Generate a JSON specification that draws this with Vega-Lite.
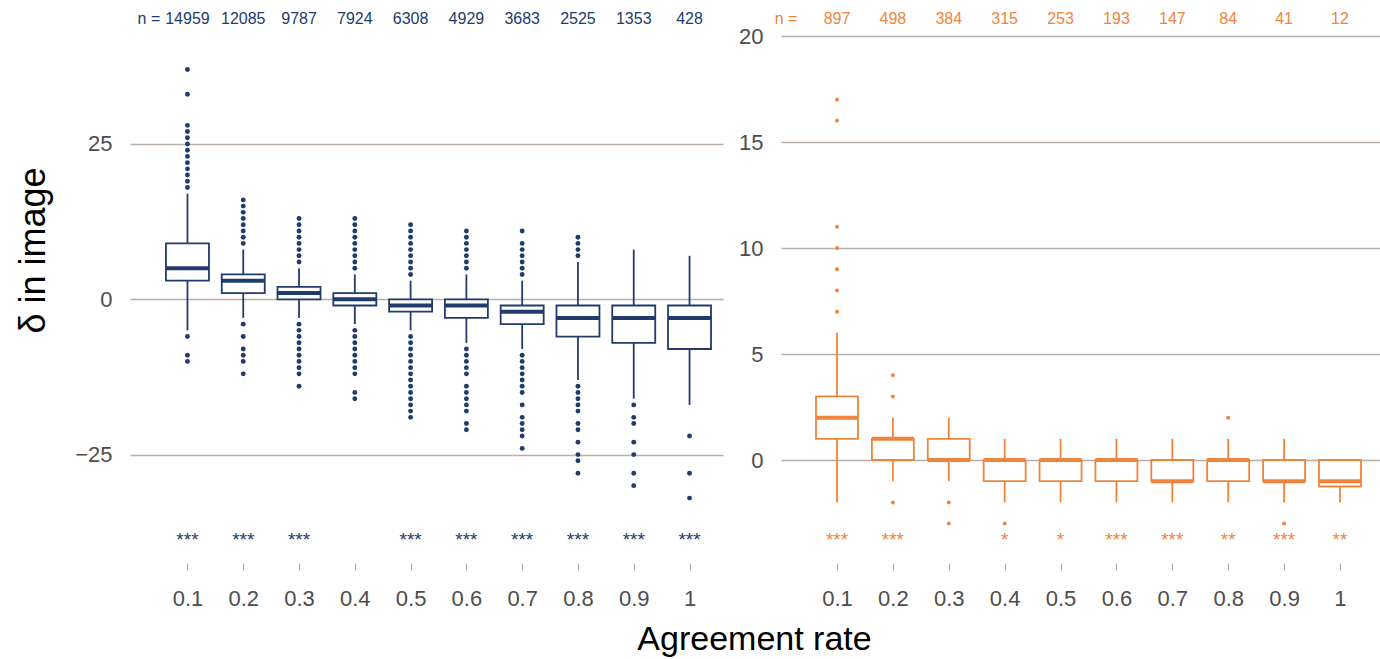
{
  "$schema": "https://vega.github.io/schema/vega-lite/v6.json",
  "background": "white",
  "padding": {"left": 15, "top": 10, "right": 0, "bottom": 0},
  "config": {
    "font": "Liberation Sans",
    "view": {"stroke": null},
    "axis": {"labelFont": "Liberation Sans", "titleFont": "Liberation Sans"}
  },
  "title": {
    "text": "Agreement rate",
    "orient": "bottom",
    "anchor": "middle",
    "fontSize": 34,
    "fontWeight": "normal",
    "color": "#000000",
    "offset": 14,
    "dx": 57
  },
  "spacing": 15,
  "datasets": {
    "leftBox": [
      {"rate": 0.1, "lo": -5, "q1": 3, "med": 5, "q3": 9, "hi": 17, "n": 14959, "sig": "***"},
      {"rate": 0.2, "lo": -3, "q1": 1, "med": 3, "q3": 4, "hi": 8, "n": 12085, "sig": "***"},
      {"rate": 0.3, "lo": -3, "q1": 0, "med": 1, "q3": 2, "hi": 5, "n": 9787, "sig": "***"},
      {"rate": 0.4, "lo": -4, "q1": -1, "med": 0, "q3": 1, "hi": 4, "n": 7924, "sig": ""},
      {"rate": 0.5, "lo": -5, "q1": -2, "med": -1, "q3": 0, "hi": 3, "n": 6308, "sig": "***"},
      {"rate": 0.6, "lo": -7, "q1": -3, "med": -1, "q3": 0, "hi": 4, "n": 4929, "sig": "***"},
      {"rate": 0.7, "lo": -8, "q1": -4, "med": -2, "q3": -1, "hi": 3, "n": 3683, "sig": "***"},
      {"rate": 0.8, "lo": -13, "q1": -6, "med": -3, "q3": -1, "hi": 6, "n": 2525, "sig": "***"},
      {"rate": 0.9, "lo": -16, "q1": -7, "med": -3, "q3": -1, "hi": 8, "n": 1353, "sig": "***"},
      {"rate": 1.0, "lo": -17, "q1": -8, "med": -3, "q3": -1, "hi": 7, "n": 428, "sig": "***"}
    ],
    "leftOut": [
      {"rate": 0.1, "v": 18}, {"rate": 0.1, "v": 19}, {"rate": 0.1, "v": 20}, {"rate": 0.1, "v": 21},
      {"rate": 0.1, "v": 22}, {"rate": 0.1, "v": 23}, {"rate": 0.1, "v": 24}, {"rate": 0.1, "v": 25},
      {"rate": 0.1, "v": 26}, {"rate": 0.1, "v": 27}, {"rate": 0.1, "v": 28}, {"rate": 0.1, "v": 33},
      {"rate": 0.1, "v": 37}, {"rate": 0.1, "v": -6}, {"rate": 0.1, "v": -9}, {"rate": 0.1, "v": -10},
      {"rate": 0.2, "v": 9}, {"rate": 0.2, "v": 10}, {"rate": 0.2, "v": 11}, {"rate": 0.2, "v": 12},
      {"rate": 0.2, "v": 13}, {"rate": 0.2, "v": 14}, {"rate": 0.2, "v": 15}, {"rate": 0.2, "v": 16},
      {"rate": 0.2, "v": -4}, {"rate": 0.2, "v": -6}, {"rate": 0.2, "v": -8}, {"rate": 0.2, "v": -9},
      {"rate": 0.2, "v": -10}, {"rate": 0.2, "v": -12},
      {"rate": 0.3, "v": 6}, {"rate": 0.3, "v": 7}, {"rate": 0.3, "v": 8}, {"rate": 0.3, "v": 9},
      {"rate": 0.3, "v": 10}, {"rate": 0.3, "v": 11}, {"rate": 0.3, "v": 12}, {"rate": 0.3, "v": 13},
      {"rate": 0.3, "v": -4}, {"rate": 0.3, "v": -5}, {"rate": 0.3, "v": -6}, {"rate": 0.3, "v": -7},
      {"rate": 0.3, "v": -8}, {"rate": 0.3, "v": -9}, {"rate": 0.3, "v": -10}, {"rate": 0.3, "v": -11},
      {"rate": 0.3, "v": -12}, {"rate": 0.3, "v": -14},
      {"rate": 0.4, "v": 5}, {"rate": 0.4, "v": 6}, {"rate": 0.4, "v": 7}, {"rate": 0.4, "v": 8},
      {"rate": 0.4, "v": 9}, {"rate": 0.4, "v": 10}, {"rate": 0.4, "v": 11}, {"rate": 0.4, "v": 12},
      {"rate": 0.4, "v": 13}, {"rate": 0.4, "v": -5}, {"rate": 0.4, "v": -6}, {"rate": 0.4, "v": -7},
      {"rate": 0.4, "v": -8}, {"rate": 0.4, "v": -9}, {"rate": 0.4, "v": -10}, {"rate": 0.4, "v": -11},
      {"rate": 0.4, "v": -12}, {"rate": 0.4, "v": -15}, {"rate": 0.4, "v": -16},
      {"rate": 0.5, "v": 4}, {"rate": 0.5, "v": 5}, {"rate": 0.5, "v": 6}, {"rate": 0.5, "v": 7},
      {"rate": 0.5, "v": 8}, {"rate": 0.5, "v": 9}, {"rate": 0.5, "v": 10}, {"rate": 0.5, "v": 11},
      {"rate": 0.5, "v": 12}, {"rate": 0.5, "v": -6}, {"rate": 0.5, "v": -7}, {"rate": 0.5, "v": -8},
      {"rate": 0.5, "v": -9}, {"rate": 0.5, "v": -10}, {"rate": 0.5, "v": -11}, {"rate": 0.5, "v": -12},
      {"rate": 0.5, "v": -13}, {"rate": 0.5, "v": -14}, {"rate": 0.5, "v": -15}, {"rate": 0.5, "v": -16},
      {"rate": 0.5, "v": -17}, {"rate": 0.5, "v": -18}, {"rate": 0.5, "v": -19},
      {"rate": 0.6, "v": 5}, {"rate": 0.6, "v": 6}, {"rate": 0.6, "v": 7}, {"rate": 0.6, "v": 8},
      {"rate": 0.6, "v": 9}, {"rate": 0.6, "v": 10}, {"rate": 0.6, "v": 11}, {"rate": 0.6, "v": -8},
      {"rate": 0.6, "v": -9}, {"rate": 0.6, "v": -10}, {"rate": 0.6, "v": -11}, {"rate": 0.6, "v": -12},
      {"rate": 0.6, "v": -14}, {"rate": 0.6, "v": -15}, {"rate": 0.6, "v": -16}, {"rate": 0.6, "v": -17},
      {"rate": 0.6, "v": -18}, {"rate": 0.6, "v": -20}, {"rate": 0.6, "v": -21},
      {"rate": 0.7, "v": 4}, {"rate": 0.7, "v": 5}, {"rate": 0.7, "v": 6}, {"rate": 0.7, "v": 7},
      {"rate": 0.7, "v": 8}, {"rate": 0.7, "v": 9}, {"rate": 0.7, "v": 11}, {"rate": 0.7, "v": -9},
      {"rate": 0.7, "v": -10}, {"rate": 0.7, "v": -11}, {"rate": 0.7, "v": -12}, {"rate": 0.7, "v": -13},
      {"rate": 0.7, "v": -14}, {"rate": 0.7, "v": -15}, {"rate": 0.7, "v": -17}, {"rate": 0.7, "v": -19},
      {"rate": 0.7, "v": -20}, {"rate": 0.7, "v": -21}, {"rate": 0.7, "v": -22}, {"rate": 0.7, "v": -24},
      {"rate": 0.8, "v": 7}, {"rate": 0.8, "v": 8}, {"rate": 0.8, "v": 9}, {"rate": 0.8, "v": 10},
      {"rate": 0.8, "v": -14}, {"rate": 0.8, "v": -15}, {"rate": 0.8, "v": -16}, {"rate": 0.8, "v": -17},
      {"rate": 0.8, "v": -18}, {"rate": 0.8, "v": -20}, {"rate": 0.8, "v": -21}, {"rate": 0.8, "v": -23},
      {"rate": 0.8, "v": -25}, {"rate": 0.8, "v": -26}, {"rate": 0.8, "v": -28},
      {"rate": 0.9, "v": -17}, {"rate": 0.9, "v": -19}, {"rate": 0.9, "v": -20}, {"rate": 0.9, "v": -23},
      {"rate": 0.9, "v": -25}, {"rate": 0.9, "v": -28}, {"rate": 0.9, "v": -30},
      {"rate": 1.0, "v": -22}, {"rate": 1.0, "v": -28}, {"rate": 1.0, "v": -32}
    ],
    "rightBox": [
      {"rate": 0.1, "lo": -2, "q1": 1, "med": 2, "q3": 3, "hi": 6, "n": 897, "sig": "***"},
      {"rate": 0.2, "lo": -1, "q1": 0, "med": 1, "q3": 1, "hi": 2, "n": 498, "sig": "***"},
      {"rate": 0.3, "lo": -1, "q1": 0, "med": 0, "q3": 1, "hi": 2, "n": 384, "sig": ""},
      {"rate": 0.4, "lo": -2, "q1": -1, "med": 0, "q3": 0, "hi": 1, "n": 315, "sig": "*"},
      {"rate": 0.5, "lo": -2, "q1": -1, "med": 0, "q3": 0, "hi": 1, "n": 253, "sig": "*"},
      {"rate": 0.6, "lo": -2, "q1": -1, "med": 0, "q3": 0, "hi": 1, "n": 193, "sig": "***"},
      {"rate": 0.7, "lo": -2, "q1": -1, "med": -1, "q3": 0, "hi": 1, "n": 147, "sig": "***"},
      {"rate": 0.8, "lo": -2, "q1": -1, "med": 0, "q3": 0, "hi": 1, "n": 84, "sig": "**"},
      {"rate": 0.9, "lo": -2, "q1": -1, "med": -1, "q3": 0, "hi": 1, "n": 41, "sig": "***"},
      {"rate": 1.0, "lo": -2, "q1": -1.25, "med": -1, "q3": 0, "hi": 0, "n": 12, "sig": "**"}
    ],
    "rightOut": [
      {"rate": 0.1, "v": 7}, {"rate": 0.1, "v": 8}, {"rate": 0.1, "v": 9}, {"rate": 0.1, "v": 10},
      {"rate": 0.1, "v": 11}, {"rate": 0.1, "v": 16}, {"rate": 0.1, "v": 17},
      {"rate": 0.2, "v": 3}, {"rate": 0.2, "v": 4}, {"rate": 0.2, "v": -2},
      {"rate": 0.3, "v": -2}, {"rate": 0.3, "v": -3},
      {"rate": 0.4, "v": -3},
      {"rate": 0.8, "v": 2},
      {"rate": 0.9, "v": -3}
    ]
  },
  "hconcat": [
    {
      "width": 593,
      "height": 553,
      "layer": [
        {
          "data": {"name": "leftBox"},
          "mark": {"type": "rule", "color": "#213c6c", "strokeWidth": 1.8},
          "encoding": {
            "x": {
              "field": "rate", "type": "quantitative",
              "scale": {"domain": [-0.003, 1.06], "nice": false, "zero": false, "padding": 0},
              "axis": {
                "values": [0.1, 0.2, 0.3, 0.4, 0.5, 0.6, 0.7, 0.8, 0.9, 1],
                "format": ".1~f", "title": null, "domain": false, "grid": false,
                "ticks": true, "tickSize": 7, "tickColor": "#a8a8a8", "tickWidth": 1,
                "labelFontSize": 22, "labelColor": "#4d4d4d", "labelPadding": 18, "labelFlush": false
              }
            },
            "y": {
              "field": "lo", "type": "quantitative",
              "scale": {"domain": [-42.45, 46.57], "nice": false, "zero": false},
              "axis": {
                "values": [-25, 0, 25], "title": "δ in image", "titleFontSize": 36,
                "titleFontWeight": "normal", "titleColor": "#000000", "titleX": -97, "titleY": 240,
                "titleBaseline": "middle",
                "grid": true, "gridColor": "#b9afa7", "gridWidth": 1.5,
                "ticks": false, "domain": false, "labelFontSize": 22, "labelColor": "#4d4d4d", "labelPadding": 18
              }
            },
            "y2": {"field": "hi"}
          }
        },
        {
          "data": {"name": "leftBox"},
          "mark": {"type": "bar", "orient": "vertical", "size": 43, "fill": "white", "stroke": "#213c6c", "strokeWidth": 1.8},
          "encoding": {
            "x": {"field": "rate", "type": "quantitative"},
            "y": {"field": "q1", "type": "quantitative"},
            "y2": {"field": "q3"}
          }
        },
        {
          "data": {"name": "leftBox"},
          "mark": {"type": "tick", "orient": "horizontal", "size": 43, "thickness": 4, "color": "#213c6c", "opacity": 1},
          "encoding": {
            "x": {"field": "rate", "type": "quantitative"},
            "y": {"field": "med", "type": "quantitative"}
          }
        },
        {
          "data": {"name": "leftOut"},
          "mark": {"type": "point", "shape": "circle", "filled": true, "size": 24, "color": "#213c6c", "opacity": 1},
          "encoding": {
            "x": {"field": "rate", "type": "quantitative"},
            "y": {"field": "v", "type": "quantitative"}
          }
        },
        {
          "data": {"name": "leftBox"},
          "mark": {"type": "text", "fontSize": 16, "color": "#213c6c", "baseline": "middle"},
          "encoding": {
            "x": {"field": "rate", "type": "quantitative"},
            "y": {"datum": 45.1},
            "text": {"field": "n"}
          }
        },
        {
          "data": {"values": [{"label": "n ="}]},
          "mark": {"type": "text", "fontSize": 16, "color": "#213c6c", "baseline": "middle"},
          "encoding": {
            "x": {"datum": 0.031},
            "y": {"datum": 45.1},
            "text": {"field": "label"}
          }
        },
        {
          "data": {"name": "leftBox"},
          "mark": {"type": "text", "fontSize": 19, "color": "#213c6c", "baseline": "middle"},
          "encoding": {
            "x": {"field": "rate", "type": "quantitative"},
            "y": {"datum": -38.75},
            "text": {"field": "sig"}
          }
        }
      ]
    },
    {
      "width": 599,
      "height": 553,
      "layer": [
        {
          "data": {"name": "rightBox"},
          "mark": {"type": "rule", "color": "#f0843c", "strokeWidth": 1.8},
          "encoding": {
            "x": {
              "field": "rate", "type": "quantitative",
              "scale": {"domain": [-0.0002, 1.0716], "nice": false, "zero": false, "padding": 0},
              "axis": {
                "values": [0.1, 0.2, 0.3, 0.4, 0.5, 0.6, 0.7, 0.8, 0.9, 1],
                "format": ".1~f", "title": null, "domain": false, "grid": false,
                "ticks": true, "tickSize": 7, "tickColor": "#a8a8a8", "tickWidth": 1,
                "labelFontSize": 22, "labelColor": "#4d4d4d", "labelPadding": 18, "labelFlush": false
              }
            },
            "y": {
              "field": "lo", "type": "quantitative",
              "scale": {"domain": [-4.858, 21.23], "nice": false, "zero": false},
              "axis": {
                "values": [0, 5, 10, 15, 20], "title": null,
                "grid": true, "gridColor": "#b9afa7", "gridWidth": 1.5,
                "ticks": false, "domain": false, "labelFontSize": 22, "labelColor": "#4d4d4d", "labelPadding": 18
              }
            },
            "y2": {"field": "hi"}
          }
        },
        {
          "data": {"name": "rightBox"},
          "mark": {"type": "bar", "orient": "vertical", "size": 42, "fill": "white", "stroke": "#f0843c", "strokeWidth": 1.8},
          "encoding": {
            "x": {"field": "rate", "type": "quantitative"},
            "y": {"field": "q1", "type": "quantitative"},
            "y2": {"field": "q3"}
          }
        },
        {
          "data": {"name": "rightBox"},
          "mark": {"type": "tick", "orient": "horizontal", "size": 42, "thickness": 4, "color": "#f0843c", "opacity": 1},
          "encoding": {
            "x": {"field": "rate", "type": "quantitative"},
            "y": {"field": "med", "type": "quantitative"}
          }
        },
        {
          "data": {"name": "rightOut"},
          "mark": {"type": "point", "shape": "circle", "filled": true, "size": 16, "color": "#f0843c", "opacity": 1},
          "encoding": {
            "x": {"field": "rate", "type": "quantitative"},
            "y": {"field": "v", "type": "quantitative"}
          }
        },
        {
          "data": {"name": "rightBox"},
          "mark": {"type": "text", "fontSize": 16, "color": "#f0843c", "baseline": "middle"},
          "encoding": {
            "x": {"field": "rate", "type": "quantitative"},
            "y": {"datum": 20.8},
            "text": {"field": "n"}
          }
        },
        {
          "data": {"values": [{"label": "n ="}]},
          "mark": {"type": "text", "fontSize": 16, "color": "#f0843c", "baseline": "middle"},
          "encoding": {
            "x": {"datum": 0.0087},
            "y": {"datum": 20.8},
            "text": {"field": "label"}
          }
        },
        {
          "data": {"name": "rightBox"},
          "mark": {"type": "text", "fontSize": 19, "color": "#f0843c", "baseline": "middle"},
          "encoding": {
            "x": {"field": "rate", "type": "quantitative"},
            "y": {"datum": -3.77},
            "text": {"field": "sig"}
          }
        }
      ]
    }
  ]
}
